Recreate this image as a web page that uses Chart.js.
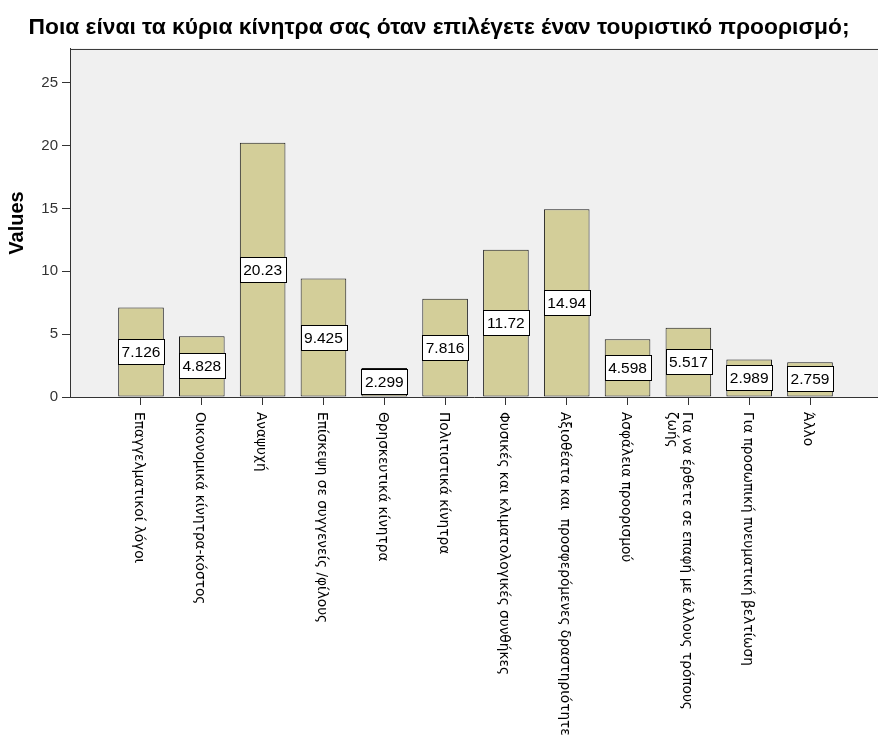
<!DOCTYPE html>
<html>
<head>
<meta charset="utf-8">
<script src="https://cdn.jsdelivr.net/npm/chart.js@4"></script>
<style>
  html, body { margin: 0; padding: 0; background: #fff; }
  #wrap { width: 878px; height: 735px; }
</style>
</head>
<body>
<div id="wrap"><canvas id="chart" width="878" height="735"></canvas></div>
<script>
// Chart data
const chartTitle = 'Ποια είναι τα κύρια κίνητρα σας όταν επιλέγετε έναν τουριστικό προορισμό;';
const categories = [
  ['Επαγγελματικοί λόγοι'],
  ['Οικονομικά κίνητρα-κόστος'],
  ['Αναψυχή'],
  ['Επίσκεψη σε συγγενείς /φίλους'],
  ['Θρησκευτικά κίνητρα'],
  ['Πολιτιστικά κίνητρα'],
  ['Φυσικές και κλιματολογικές συνθήκες'],
  ['Αξιοθέατα και  προσφερόμενες δραστηριότητες'],
  ['Ασφάλεια προορισμού'],
  ['Για να έρθετε σε επαφή με άλλους τρόπους', 'ζωής'],
  ['Για προσωπική πνευματική βελτίωση'],
  ['Άλλο']
];
const values = [7.126, 4.828, 20.23, 9.425, 2.299, 7.816, 11.72, 14.94, 4.598, 5.517, 2.989, 2.759];
const yTicks = [0, 5, 10, 15, 20, 25];

const axisColor = '#333333';
const barFill = '#d3ce99';

// Plot background + top frame line
const frame = {
  id: 'frame',
  beforeDraw(chart) {
    const { ctx, chartArea: a } = chart;
    ctx.save();
    ctx.fillStyle = '#f0f0f0';
    ctx.fillRect(a.left, a.top, a.right - a.left, a.bottom - a.top);
    ctx.strokeStyle = axisColor;
    ctx.lineWidth = 1;
    ctx.beginPath();
    ctx.moveTo(a.left, a.top + 0.5);
    ctx.lineTo(a.right, a.top + 0.5);
    ctx.stroke();
    ctx.restore();
  }
};

// White value boxes in the middle of each bar
const valueBoxes = {
  id: 'valueBoxes',
  afterDatasetsDraw(chart) {
    const { ctx } = chart;
    const meta = chart.getDatasetMeta(0);
    ctx.save();
    ctx.font = '15.5px "Liberation Sans", Arial, sans-serif';
    ctx.textAlign = 'center';
    ctx.textBaseline = 'middle';
    meta.data.forEach((bar, i) => {
      const mid = Math.round((bar.y + bar.base) / 2);
      const h = 25;
      const w = Math.round(bar.width);
      const x0 = Math.round(bar.x - bar.width / 2) + 0.5;
      let y0 = mid - Math.round(h / 2);
      if (y0 + h > bar.base) y0 = Math.round(bar.base) - h;
      ctx.fillStyle = '#fff';
      ctx.fillRect(x0, y0 + 0.5, w, h);
      ctx.strokeStyle = '#000';
      ctx.lineWidth = 1;
      ctx.strokeRect(x0, y0 + 0.5, w, h);
      ctx.fillStyle = '#000';
      ctx.fillText(String(values[i]), bar.x, y0 + h / 2 + 1.5);
    });
    ctx.restore();
  }
};

// Category labels, turned clockwise and read from top to bottom
const catLabels = {
  id: 'catLabels',
  afterDraw(chart) {
    const { ctx } = chart;
    const xs = chart.scales.x;
    const lh = 15;
    ctx.save();
    ctx.font = '13.7px "DejaVu Sans"';
    ctx.fillStyle = '#000';
    ctx.textAlign = 'left';
    ctx.textBaseline = 'middle';
    categories.forEach((lines, i) => {
      const px = xs.getPixelForValue(i);
      lines.forEach((line, k) => {
        ctx.save();
        ctx.translate(px - 2 - k * lh, xs.top + 15);
        ctx.rotate(Math.PI / 2);
        ctx.fillText(line, 0, 0);
        ctx.restore();
      });
    });
    ctx.restore();
  }
};

new Chart(document.getElementById('chart'), {
  type: 'bar',
  data: {
    datasets: [{
      data: values.map((v, i) => ({ x: i, y: v })),
      backgroundColor: barFill,
      borderColor: '#1a1a1a',
      borderWidth: 1,
      borderSkipped: false,
      barPercentage: 0.75,
      categoryPercentage: 1
    }]
  },
  options: {
    responsive: false,
    animation: false,
    layout: { padding: 0 },
    plugins: {
      legend: { display: false },
      tooltip: { enabled: false },
      title: {
        display: true,
        text: chartTitle,
        color: '#000',
        font: { family: '"Liberation Sans", Arial, sans-serif', size: 22.8, weight: 'bold' },
        padding: { top: 14, bottom: 7.6 }
      }
    },
    scales: {
      x: {
        type: 'linear',
        offset: false,
        min: -1.1674,
        max: 12.118,
        afterBuildTicks(scale) {
          scale.ticks = categories.map((_, i) => ({ value: i }));
        },
        afterFit(scale) { scale.height = 338; },
        ticks: { display: false },
        grid: { offset: false, drawOnChartArea: false, drawTicks: true, tickLength: 8, color: axisColor },
        border: { color: axisColor, width: 1 }
      },
      y: {
        min: 0,
        max: 27.7,
        afterBuildTicks(scale) {
          scale.ticks = yTicks.map(v => ({ value: v }));
        },
        afterFit(scale) { scale.width = 70; },
        ticks: {
          color: '#333',
          padding: 4,
          font: { family: '"Liberation Sans", Arial, sans-serif', size: 15 }
        },
        grid: { drawOnChartArea: false, drawTicks: true, tickLength: 8, color: axisColor },
        border: { color: axisColor, width: 1 },
        title: {
          display: true,
          text: 'Values',
          color: '#000',
          padding: { top: 5, bottom: 4 },
          font: { family: '"Liberation Sans", Arial, sans-serif', size: 20, weight: 'bold' }
        }
      }
    }
  },
  plugins: [frame, valueBoxes, catLabels]
});
</script>
</body>
</html>
